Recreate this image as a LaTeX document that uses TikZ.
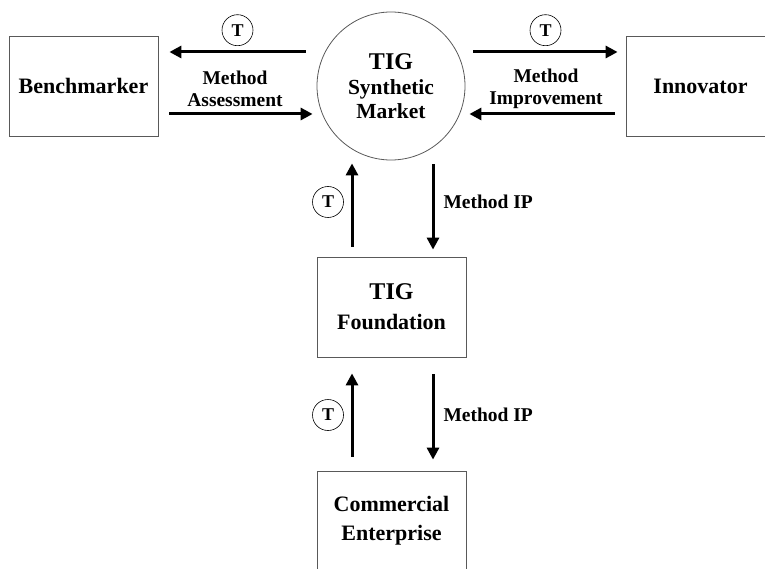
\documentclass[tikz,border=0pt]{standalone}
\usepackage{fontspec}
\setmainfont{Liberation Serif}
\usetikzlibrary{arrows.meta}

\begin{document}
\begin{tikzpicture}[x=1pt,y=-1pt,
  box/.style={draw=black!65,line width=0.8pt,minimum width=149pt,minimum height=100pt,align=center,font=\bfseries\fontsize{22}{27}\selectfont},
  flow/.style={-{Triangle[length=12pt,width=12pt]},line width=3pt},
  tok/.style={draw,circle,inner sep=0pt,minimum size=31pt,line width=0.6pt,font=\bfseries\fontsize{18}{18}\selectfont},
  lbl/.style={align=center,font=\bfseries\fontsize{19.5}{22}\selectfont}]

\useasboundingbox (0,0) rectangle (765,569);
\clip (0,0) rectangle (765,569);

% Teilnehmer
\node[box] (bench) at (83.5,86) {Benchmarker};
\node[box] (innov) at (700.5,86) {Innovator};
\node[draw=black!65,line width=0.8pt,circle,minimum size=148pt,align=center,font=\bfseries\fontsize{21.5}{24}\selectfont] (mkt) at (391,86)
  {{\fontsize{24}{26}\selectfont TIG}\\[1pt] Synthetic\\[0pt] Market};
\node[box] (found) at (391.5,307) {{\fontsize{24}{24}\selectfont TIG}\\[3pt] Foundation};
\node[box] (comm) at (391.5,521) {Commercial\\[2pt] Enterprise};

% Benchmarker <-> Markt
\draw[flow] ([shift={(-11,-34)}]mkt.west) -- node[tok,above=6pt] (t1) {T} ([shift={(11,-34)}]bench.east);
\draw[flow] ([shift={(11,28)}]bench.east) -- ([shift={(-4,28)}]mkt.west);
\node[lbl] (assess) at (235,89) {Method\\Assessment};

% Markt <-> Innovator
\draw[flow] ([shift={(8,-34)}]mkt.east) -- node[tok,above=6pt] (t2) {T} ([shift={(-8,-34)}]innov.west);
\draw[flow] ([shift={(-11,28)}]innov.west) -- ([shift={(4,28)}]mkt.east);
\node[lbl] (improve) at (546,89) {Method\\Improvement};

% Markt <-> Foundation
\draw[flow] ([shift={(-39.5,-10)}]found.north) -- ([shift={(-39,3)}]mkt.south);
\draw[flow] ([shift={(42,4)}]mkt.south) -- ([shift={(41.5,-7)}]found.north);
\node[tok] (t3) at (328,202) {T};
\node[lbl,anchor=west] (ip1) at (440,202) {Method IP};

% Foundation <-> Enterprise
\draw[flow] ([shift={(-39.5,-14)}]comm.north) -- ([shift={(-39.5,16)}]found.south);
\draw[flow] ([shift={(41.5,17)}]found.south) -- ([shift={(41.5,-11)}]comm.north);
\node[tok] (t4) at (328,415) {T};
\node[lbl,anchor=west] (ip2) at (440,415) {Method IP};

\end{tikzpicture}
\end{document}
